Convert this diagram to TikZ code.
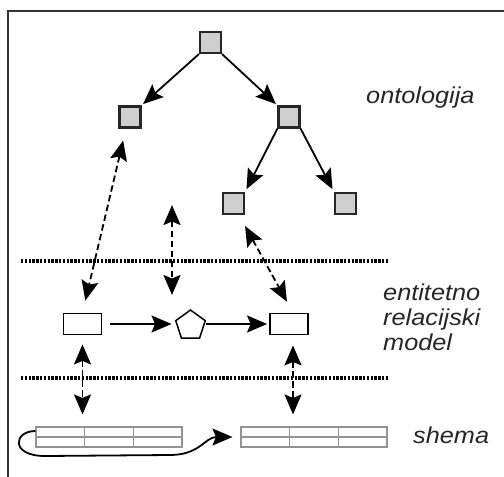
\documentclass[tikz,border=0pt]{standalone}
\usepackage{fontspec}
\newfontfamily\lblfont[FakeStretch=1.1]{Liberation Sans}
\usetikzlibrary{arrows.meta,shapes.geometric,calc}
\begin{document}
\begin{tikzpicture}[x=1pt,y=-1pt,
  tip/.tip={Stealth[length=20,width=17,inset=3.5]},
  sq/.style={draw, line width=2.2, draw=black!85, fill=gray!38, minimum size=21, inner sep=0},
  er/.style={draw, line width=1.8, fill=white, minimum width=38, minimum height=21, inner sep=0},
  pent/.style={regular polygon, regular polygon sides=5, draw, line width=1.5, minimum size=31, inner sep=0},
  arr/.style={line width=1.8, -{tip}},
  darr/.style={line width=1.8, dash pattern=on 6.5 off 3.5, {tip}-{tip}},
  dotline/.style={line width=3.5, dash pattern=on 2.4 off 1.4},
  tbl/.style={draw=gray!85, line width=1.1, minimum width=146, minimum height=20, inner sep=0},
  tline/.style={draw=gray!85, line width=1.1},
  lbl/.style={font=\lblfont\itshape\fontsize{23}{25}\selectfont, text=black!85, inner sep=0, anchor=base west}
]
\useasboundingbox (0,0) rectangle (504,477);
\fill[white] (0,0) rectangle (504,477);
\draw[line width=2, black!80] (8,477) -- (8,11) -- (504,11);

% ontology tree
\node[sq] (root) at (210.5,42.5) {};
\node[sq] (l) at (130,117) {};
\node[sq] (r) at (289,117) {};
\node[sq] (rl) at (233.5,203.5) {};
\node[sq] (rr) at (345.5,203.5) {};
\draw[arr, shorten >=2] (root.south west) -- (l.north east);
\draw[arr, shorten >=2] (root.south east) -- (r.north west);
\draw[arr, shorten >=3] (r.south west) -- (rl.north east);
\draw[arr, shorten >=3] (r.south east) -- (rr.north west);

% dotted separators
\draw[dotline] (21,261) -- (389,261);
\draw[dotline] (21,378) -- (389,378);

% ER model
\node[er] (e1) at (82.5,324) {};
\node[pent] (p) at (190.5,325.5) {};
\node[er] (e2) at (289,324) {};
\draw[arr, shorten <=8, shorten >=5] (e1.east) -- (e1.east -| p.west);
\draw[arr, shorten <=2, shorten >=2] (p.east |- e2.west) -- (e2.west);

% dashed mappings
\draw[darr, shorten <=12.3, shorten >=12.3] ([xshift=-4]l.south) -- (e1.north);
\coordinate (m1) at (172,205);
\coordinate (m2) at (172,295);
\draw[darr] (m1) -- (m2);
\draw[darr, shorten <=12.5, shorten >=12.5] ([xshift=5.5]rl.south) -- ([xshift=4]e2.north);

% tables
\node[tbl] (tL) at (109,437) {};
\node[tbl] (tR) at (314,437) {};
\foreach \t in {tL,tR}{
  \draw[tline] (\t.west) -- (\t.east);
  \draw[tline] ($(\t.north west)!1/3!(\t.north east)$) -- ($(\t.south west)!1/3!(\t.south east)$);
  \draw[tline] ($(\t.north west)!2/3!(\t.north east)$) -- ($(\t.south west)!2/3!(\t.south east)$);
}
\draw[darr, shorten <=9, shorten >=12] (e1.south) -- (e1.south |- tL.north);
\draw[darr, shorten <=10, shorten >=12] ([xshift=4]e2.south) -- ([xshift=4]e2.south |- tR.north);

% curved arrow between tables
\draw[arr, shorten >=8] ([yshift=6]tL.west) .. controls +(-22,0) and (10,456) .. (45,456)
  -- (170,455) .. controls (200,455) and (205,437) .. (tR.west);

% labels
\node[lbl] (t1) at (366,103) {ontologija};
\node[lbl] (t2) at (383,300) {entitetno};
\node[lbl] (t3) at (383,325) {relacijski};
\node[lbl] (t4) at (383,350) {model};
\node[lbl] (t5) at (413,443) {shema};
\end{tikzpicture}
\end{document}
